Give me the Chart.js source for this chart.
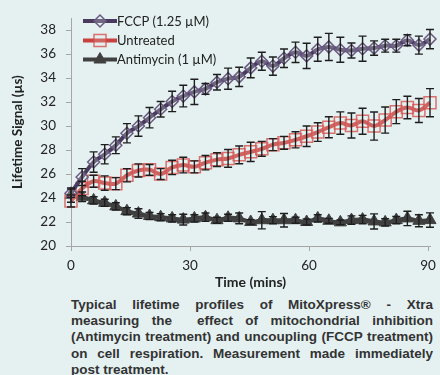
<!DOCTYPE html>
<html>
<head>
<meta charset="utf-8">
<script src="https://cdn.jsdelivr.net/npm/chart.js@4.4.1/dist/chart.umd.min.js"></script>
<style>
  html, body { margin: 0; padding: 0; background: #e5f1f1; }
  #wrap { position: relative; width: 440px; height: 375px; overflow: hidden; }
  #chart { position: absolute; left: 0; top: 0; }
  #caption {
    position: absolute; left: 71px; top: 297px; width: 362px;
    font-family: "Liberation Sans", Arial, sans-serif; font-weight: bold;
    font-size: 13.5px; line-height: 16.2px; color: #333;
  }
  #caption .ln { text-align: justify; text-align-last: justify; }
  #caption .ln.last { text-align-last: left; }
</style>
</head>
<body>
<div id="wrap">
  <canvas id="chart" width="440" height="292"></canvas>
  <div id="caption">
    <div class="ln">Typical lifetime profiles of MitoXpress® - Xtra</div>
    <div class="ln">measuring the&nbsp; effect of mitochondrial inhibition</div>
    <div class="ln">(Antimycin treatment) and uncoupling (FCCP treatment)</div>
    <div class="ln">on cell respiration. Measurement made immediately</div>
    <div class="ln last">post treatment.</div>
  </div>
</div>
<script>
// sampling times (mins)
const times = [0, 2.8, 5.7, 8.5, 11.3, 14.1, 17, 19.8, 22.6, 25.5, 28.3, 31.1, 33.9, 36.8, 39.6, 42.4, 45.3,
  48.1, 50.9, 53.7, 56.6, 59.4, 62.2, 65, 67.9, 70.7, 73.5, 76.4, 79.2, 82, 84.8, 87.7, 90.5];

const fccp = [24.4, 25.75, 27.0, 27.65, 28.4, 29.4, 30.0, 30.7, 31.4, 32.05, 32.5, 32.85, 33.1, 33.65, 33.95, 34.1, 34.85,
  35.4, 35.0, 35.65, 36.15, 35.85, 36.4, 36.6, 36.36, 36.3, 36.45, 36.5, 36.7, 36.7, 37.15, 36.75, 37.25];
const fccpErr = [0.35, 0.7, 0.85, 0.8, 0.7, 0.8, 0.85, 0.85, 0.65, 0.85, 0.9, 1.05, 0.45, 0.65, 0.88, 0.8, 0.82,
  0.75, 0.76, 0.77, 0.85, 1.05, 1.0, 1.13, 1.04, 0.63, 1.05, 0.6, 0.54, 0.54, 0.46, 0.75, 0.8];

const untreated = [23.75, 24.8, 25.4, 25.25, 25.2, 25.9, 26.3, 26.35, 26.0, 26.55, 26.75, 26.6, 26.95, 27.2, 27.3, 27.6, 27.85,
  28.1, 28.45, 28.6, 28.85, 29.15, 29.5, 29.9, 30.25, 30.05, 30.4, 30.0, 30.5, 31.2, 31.55, 31.3, 31.95];
const untreatedErr = [0.5, 0.6, 0.5, 0.6, 0.5, 0.55, 0.55, 0.45, 0.45, 0.6, 0.65, 0.5, 0.6, 0.57, 0.74, 0.74, 0.8,
  0.62, 0.5, 0.54, 0.67, 0.85, 0.78, 0.88, 0.93, 1.04, 1.08, 1.17, 1.09, 1.0, 0.94, 1.0, 1.17];

const antimycin = [24.25, 24.1, 23.8, 23.6, 23.3, 22.9, 22.7, 22.5, 22.4, 22.3, 22.2, 22.3, 22.4, 22.15, 22.35, 22.3, 22.0,
  22.15, 22.15, 22.15, 22.15, 22.0, 22.3, 22.1, 21.97, 22.16, 22.2, 22.05, 21.97, 22.16, 22.3, 22.1, 22.16];
const antimycinErr = [0.6, 0.4, 0.3, 0.3, 0.3, 0.3, 0.4, 0.3, 0.3, 0.3, 0.45, 0.3, 0.35, 0.25, 0.3, 0.45, 0.2,
  0.72, 0.3, 0.56, 0.25, 0.25, 0.3, 0.2, 0.2, 0.35, 0.35, 0.63, 0.3, 0.3, 0.6, 0.5, 0.6];

const seriesNames = ['FCCP (1.25 µM)', 'Untreated', 'Antimycin (1 µM)'];
const yTicks = [20, 22, 24, 26, 28, 30, 32, 34, 36, 38];
const xTicks = [0, 30, 60, 90];

function points(vals) {
  return times.map((t, i) => ({ x: t, y: vals[i] }));
}

// vertical error bars with caps
const errorBars = {
  id: 'errorBars',
  afterDatasetsDraw(chart) {
    const ctx = chart.ctx;
    const ys = chart.scales.y;
    ctx.save();
    ctx.strokeStyle = '#1e1e1e';
    ctx.lineWidth = 1.4;
    chart.data.datasets.forEach((ds, d) => {
      const meta = chart.getDatasetMeta(d);
      meta.data.forEach((pt, i) => {
        const v = ds.data[i].y, e = ds.errors[i];
        const top = ys.getPixelForValue(v + e), bot = ys.getPixelForValue(v - e);
        ctx.beginPath();
        ctx.moveTo(pt.x, top); ctx.lineTo(pt.x, bot);
        ctx.moveTo(pt.x - 4, top); ctx.lineTo(pt.x + 4, top);
        ctx.moveTo(pt.x - 4, bot); ctx.lineTo(pt.x + 4, bot);
        ctx.stroke();
      });
    });
    ctx.restore();
  }
};

// legend in the top-left corner of the plot
const innerLegend = {
  id: 'innerLegend',
  afterDraw(chart) {
    const ctx = chart.ctx;
    const rows = [21, 40.5, 59.5];
    ctx.save();
    chart.data.datasets.forEach((ds, d) => {
      const y = rows[d];
      ctx.strokeStyle = ds.borderColor;
      ctx.lineWidth = ds.borderWidth;
      ctx.beginPath();
      ctx.moveTo(83, y); ctx.lineTo(117, y);
      ctx.stroke();
      ctx.fillStyle = ds.pointBackgroundColor;
      ctx.strokeStyle = ds.pointBorderColor;
      ctx.lineWidth = ds.pointBorderWidth;
      Chart.helpers.drawPoint(ctx, { pointStyle: ds.pointStyle, radius: ds.pointRadius, borderWidth: ds.pointBorderWidth, rotation: 0 }, 100, y);
      ctx.fillStyle = '#222';
      ctx.font = '13px Lato';
      ctx.textBaseline = 'middle';
      ctx.textAlign = 'left';
      ctx.fillText(ds.label, 117, y + 0.5);
    });
    ctx.restore();
  }
};

Chart.defaults.font.family = 'Lato';
Chart.defaults.color = '#222';

new Chart(document.getElementById('chart'), {
  type: 'line',
  data: {
    datasets: [
      {
        label: seriesNames[0], data: points(fccp), errors: fccpErr,
        borderColor: '#4a3a5e', borderWidth: 4, tension: 0.35,
        pointStyle: 'rectRot', pointRadius: 6, pointBorderWidth: 1.5,
        pointBorderColor: '#6a5a82', pointBackgroundColor: 'rgba(229,241,241,0.25)', clip: false
      },
      {
        label: seriesNames[1], data: points(untreated), errors: untreatedErr,
        borderColor: '#c8413f', borderWidth: 4, tension: 0.35,
        pointStyle: 'rect', pointRadius: 8.5, pointBorderWidth: 1.5,
        pointBorderColor: 'rgba(214,80,78,0.8)', pointBackgroundColor: 'rgba(229,241,241,0.2)', clip: false
      },
      {
        label: seriesNames[2], data: points(antimycin), errors: antimycinErr,
        borderColor: '#404040', borderWidth: 4, tension: 0.35,
        pointStyle: 'triangle', pointRadius: 7, pointBorderWidth: 1,
        pointBorderColor: '#404040', pointBackgroundColor: '#404040', clip: false
      }
    ]
  },
  options: {
    responsive: false,
    animation: false,
    layout: { padding: { top: 11, right: 7, left: 0, bottom: 0 } },
    plugins: { legend: { display: false }, tooltip: { enabled: false } },
    scales: {
      x: {
        type: 'linear', min: 0, max: 90.5,
        afterBuildTicks: s => { s.ticks = xTicks.map(v => ({ value: v })); },
        afterFit: s => { s.height = 46; s.paddingLeft = 0; s.paddingRight = 0; },
        grid: { drawOnChartArea: false, color: '#a6a6a6', tickLength: 5 },
        border: { color: '#a6a6a6', width: 1 },
        ticks: { font: { size: 13.5 }, padding: 7, maxRotation: 0 },
        title: { display: true, text: 'Time (mins)', font: { size: 14, weight: 'bold' }, padding: { top: 0, bottom: 1 } }
      },
      y: {
        min: 20, max: 39,
        afterBuildTicks: s => { s.ticks = yTicks.map(v => ({ value: v })); },
        afterFit: s => { s.width = 71; },
        grid: { drawOnChartArea: false, color: '#a6a6a6', tickLength: 5 },
        border: { color: '#a6a6a6', width: 1 },
        ticks: { font: { size: 13.5 }, padding: 10 },
        title: { display: true, text: 'Lifetime Signal (µs)', font: { size: 13.5, weight: 'bold' }, padding: { top: 10, bottom: 0 } }
      }
    }
  },
  plugins: [errorBars, innerLegend]
});
</script>
</body>
</html>
